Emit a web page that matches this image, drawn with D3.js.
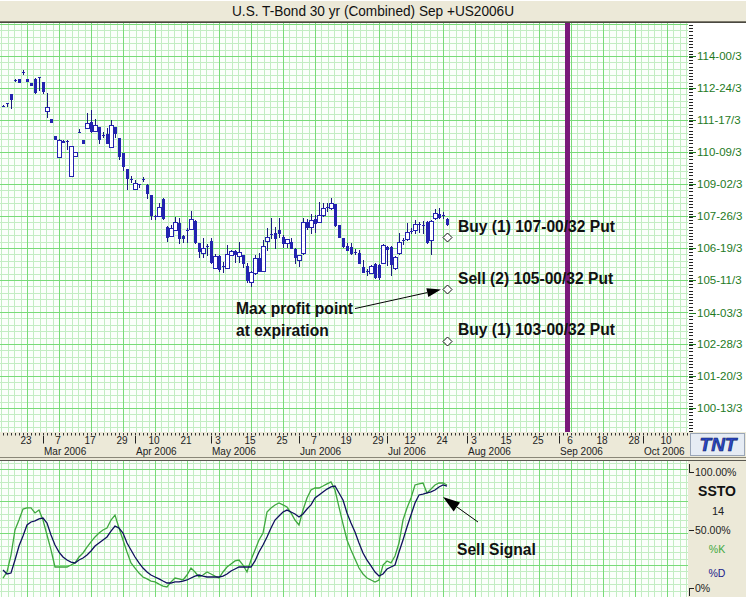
<!DOCTYPE html>
<html><head><meta charset="utf-8">
<script src="https://cdn.jsdelivr.net/npm/d3@7"></script>
<style>
body{margin:0;background:#ECE9D8;}
svg{display:block;font-family:"Liberation Sans",Arial,sans-serif;}
</style>
</head><body>
<svg id="c" width="746" height="597"></svg>
<script>
const title = "U.S. T-Bond 30 yr (Combined) Sep +US2006U";
const holidays = ["2006-02-20","2006-04-14","2006-05-29","2006-07-04"];
const firstDate = "2006-02-14", lastAxisDate = "2006-10-18";
const expirationDate = "2006-09-05";

const open = [
112.07,112.18,112.53,113.07,113.11,113.37,113.11,112.97,113.11,113.19,
112.98,111.89,111.57,110.91,110.11,110.73,110.73,109.38,110.15,111.05,
110.76,111.23,111.45,111.12,111.25,110.95,110.99,110.47,111.27,110.82,
110.24,109.64,109.24,108.85,109.04,109.26,109.02,108.63,107.84,107.83,
108.48,107.41,107.05,107.28,107.54,107.05,107.28,107.31,107.63,106.77,
106.40,106.67,106.86,105.82,106.29,105.90,105.82,106.31,106.47,106.29,
106.31,105.90,105.28,105.61,106.21,105.71,106.86,107.11,107.15,107.28,
107.02,106.77,106.83,106.55,106.12,106.38,107.60,107.38,107.69,107.60,
107.86,108.18,108.12,108.28,107.47,106.96,106.66,106.61,106.44,106.40,
105.86,105.71,105.63,105.97,105.93,105.99,106.64,106.64,105.80,106.38,
106.89,106.92,107.25,107.28,107.51,107.47,107.60,106.89,107.73,107.90,
107.86,107.69];
const high = [
112.09,112.20,112.53,113.11,113.11,113.46,113.11,112.97,113.14,113.20,
113.00,112.56,111.57,110.91,110.81,110.74,110.74,110.52,110.28,111.17,
110.76,111.79,111.91,111.56,111.25,111.08,111.21,111.53,111.27,110.82,
110.24,109.64,109.37,109.21,109.06,109.34,109.05,108.63,107.86,108.31,
108.53,107.43,107.47,107.79,107.76,107.07,107.35,108.01,107.67,106.78,
106.96,106.73,106.96,106.35,106.31,106.03,106.70,106.51,106.49,106.81,
106.33,105.99,105.70,106.31,106.38,106.89,107.35,107.73,107.41,107.76,
107.09,106.93,106.98,106.57,106.31,107.73,107.69,107.90,107.86,108.37,
108.31,108.31,108.50,108.30,107.49,106.99,106.77,106.77,106.53,106.51,
106.12,105.79,105.91,105.99,105.97,106.74,106.66,106.66,106.28,107.18,
106.96,107.54,107.34,107.67,107.60,107.63,107.63,107.67,108.08,108.12,
107.98,107.74];
const low = [
112.05,112.07,112.00,113.03,112.98,113.31,113.02,112.89,112.56,112.69,
112.56,111.66,111.44,110.78,110.11,110.68,110.42,109.38,110.15,111.05,
110.63,111.23,111.08,111.12,110.65,110.86,110.63,110.47,110.86,110.01,
109.60,108.85,109.15,108.85,108.96,109.19,108.50,107.69,107.69,107.83,
107.69,106.86,107.05,107.28,106.77,106.83,106.83,107.31,106.79,106.25,
106.25,106.31,106.01,105.81,105.71,105.67,105.81,106.31,106.06,106.03,
105.86,105.28,105.12,105.58,105.68,105.70,106.51,106.96,106.57,107.02,
106.64,106.64,106.57,106.01,105.89,106.37,107.31,107.18,107.21,107.59,
107.84,108.03,108.11,107.45,107.01,106.64,106.49,106.35,106.35,106.01,
105.66,105.54,105.62,105.43,105.39,105.99,105.93,105.54,105.79,106.37,
106.74,106.91,107.16,107.15,107.21,107.16,106.77,106.35,107.72,107.76,
107.74,107.49];
const close = [
112.07,112.18,112.34,113.07,112.98,113.37,113.02,112.89,112.60,113.19,
112.66,112.04,111.44,110.78,110.76,110.68,110.73,110.52,110.28,111.05,
110.63,111.42,111.10,111.34,110.78,110.95,110.63,111.34,111.04,110.15,
109.75,109.28,109.24,109.11,109.04,109.26,108.70,107.86,107.84,108.18,
107.73,107.02,107.37,107.60,106.98,106.96,107.28,107.70,106.83,106.47,
106.57,106.67,106.03,106.28,105.76,105.90,106.34,106.47,106.35,106.44,
105.99,105.35,105.67,106.19,105.70,106.66,107.02,107.11,106.96,107.15,
106.77,106.92,106.57,106.25,106.31,107.60,107.41,107.67,107.54,107.86,
108.12,108.18,108.31,107.47,107.02,106.66,106.51,106.38,106.44,106.01,
105.67,105.71,105.89,105.45,105.47,106.70,106.53,105.97,106.25,106.83,
106.89,107.21,107.25,107.51,107.51,107.47,106.83,107.64,107.95,107.77,
107.86,107.51];

const stochK = [
8.6,13.8,28.4,50.0,58.6,68.1,69.0,69.0,64.7,67.2,
58.6,45.7,32.8,18.1,18.1,18.1,18.1,19.8,21.6,26.7,
30.2,35.3,39.7,44.0,47.4,50.0,51.7,58.6,62.9,51.7,
41.4,31.0,21.6,17.2,12.9,9.5,7.8,6.0,5.2,3.4,
1.7,0.9,5.2,8.6,7.8,6.9,11.2,17.2,13.8,9.5,
11.2,13.8,12.1,10.3,8.6,13.8,18.1,20.7,23.3,24.1,
19.8,13.8,24.1,32.8,41.4,47.4,65.5,69.0,71.6,73.3,
71.6,69.8,64.7,58.6,54.3,67.2,77.6,84.5,86.2,86.2,
87.9,89.7,91.4,84.5,69.8,55.2,41.4,32.8,25.0,17.2,
12.1,8.6,6.9,5.2,6.9,19.8,23.3,21.6,27.6,38.8,
58.6,69.0,77.6,88.8,89.7,90.5,81.9,85.3,88.8,90.5,
90.5,88.8];
const stochD = [
15.5,12.1,12.9,24.1,36.2,44.8,54.3,56.9,57.8,59.5,
60.3,56.0,45.7,37.1,31.0,26.7,24.1,22.4,21.6,24.1,
25.9,28.4,31.9,36.2,38.8,41.4,44.0,49.1,53.4,51.7,
47.4,38.8,32.8,26.7,21.6,17.2,13.8,11.2,9.5,7.8,
6.0,4.3,4.3,5.2,5.2,6.0,6.9,8.6,10.3,11.2,
10.3,9.5,9.5,9.5,9.5,10.3,12.1,14.7,16.4,18.1,
18.1,18.1,18.1,23.3,31.0,37.1,44.0,51.7,58.6,62.1,
65.5,67.2,65.5,63.8,61.2,63.8,68.1,71.6,77.6,80.2,
82.8,85.3,87.1,87.9,81.9,75.9,64.7,56.0,48.3,38.8,
30.2,24.1,19.0,13.8,10.3,12.1,16.4,18.1,19.8,31.0,
41.4,52.6,62.9,73.3,80.2,81.0,81.9,82.8,84.5,87.1,
88.8,87.9];

const priceTicks = [114.0,112.75,111.53125,110.28125,109.0625,107.8125,106.59375,105.34375,104.09375,102.875,101.625,100.40625];
const priceTickLabels = ["114-00/3","112-24/3","111-17/3","110-09/3","109-02/3","107-26/3","106-19/3","105-11/3","104-03/3","102-28/3","101-20/3","100-13/3"];
const strikes = [107, 105, 103];
const strikeLabels = ["Buy (1) 107-00/32 Put","Sell (2) 105-00/32 Put","Buy (1) 103-00/32 Put"];
const stochTicks = [100, 50, 0];
const stochTickLabels = ["100.00%","50.00%","0%"];
const stochName = "SSTO", stochPeriod = "14";
const labelEvery = 8, firstLabelIndex = 6;

// ---------- layout ----------
const W = 746, H = 597;
const plotR = 688, mainTop = 23, mainBot = 432;
const axTop = 432, axBot = 457;
const subTop = 461, subBot = 597;
const barStep = 4, firstBarX = 3;

const fmt = d3.utcFormat("%Y-%m-%d");
const parse = d3.utcParse("%Y-%m-%d");
const dates = d3.utcDay.range(parse(firstDate), parse(lastAxisDate))
  .filter(d => d.getUTCDay() % 6 !== 0 && !holidays.includes(fmt(d)));
const keys = dates.map(fmt);
const x = d3.scalePoint().domain(keys).range([firstBarX, firstBarX + barStep*(keys.length-1)]);
const y = d3.scaleLinear().domain([100.40625, 114]).range([408, 56]);
const ys = d3.scaleLinear().domain([0, 100]).range([588, 472]);

const bars = open.map((o,i)=>({date:keys[i],o,h:high[i],l:low[i],c:close[i]}));

const svg = d3.select("#c");
const defs = svg.append("defs");
defs.append("clipPath").attr("id","mainClip").append("rect").attr("x",0).attr("y",mainTop).attr("width",plotR).attr("height",mainBot-mainTop);
defs.append("clipPath").attr("id","subClip").append("rect").attr("x",0).attr("y",subTop).attr("width",plotR).attr("height",subBot-subTop);

svg.append("rect").attr("width",W).attr("height",H).attr("fill","#ECE9D8");

// ---------- grid helper ----------
const minorC = "#c3edc3", majorC = "#78db78";
function grid(g, top, bot, hStart) {
  g.append("rect").attr("x",0).attr("y",top).attr("width",plotR).attr("height",bot-top).attr("fill","#fbfffb");
  const vx0 = x(keys[firstLabelIndex]);
  const vlines = [];
  for (let j = -10; ; j++) { const gx = vx0 + j*6.4; if (gx > plotR) break; if (gx >= 0) vlines.push({v:gx, major: ((j%5)+5)%5===0}); }
  const hlines = [];
  for (let j = -80; j < 200; j++) { const gy = hStart + j*6.4; if (gy < top) continue; if (gy > bot) break; hlines.push({v:gy, major: ((j%5)+5)%5===0}); }
  [false,true].forEach(maj => {
    g.selectAll(null).data(vlines.filter(d=>d.major===maj)).join("line")
      .attr("x1",d=>Math.round(d.v)+0.5).attr("x2",d=>Math.round(d.v)+0.5).attr("y1",top).attr("y2",bot)
      .attr("stroke",maj?majorC:minorC).attr("stroke-width",1);
    g.selectAll(null).data(hlines.filter(d=>d.major===maj)).join("line")
      .attr("y1",d=>Math.round(d.v)+0.5).attr("y2",d=>Math.round(d.v)+0.5).attr("x1",0).attr("x2",plotR)
      .attr("stroke",maj?majorC:minorC).attr("stroke-width",1);
  });
}

// ---------- main panel ----------
const main = svg.append("g").attr("clip-path","url(#mainClip)");
grid(main, mainTop, mainBot, y(priceTicks[0]));

// expiration line
main.append("line").attr("x1",x(expirationDate)+0.5).attr("x2",x(expirationDate)+0.5)
  .attr("y1",mainTop).attr("y2",mainBot+2).attr("stroke","#7a1a7a").attr("stroke-width",5);

// candles
const candleFill = "#2323b0", candleLine = "#1a1a80";
const cg = main.append("g");
cg.selectAll("line.wick").data(bars).join("line").attr("class","wick")
  .attr("x1",d=>x(d.date)+0.5).attr("x2",d=>x(d.date)+0.5)
  .attr("y1",d=>Math.round(y(d.h))).attr("y2",d=>Math.round(y(d.l))+1).attr("stroke",candleLine).attr("stroke-width",1);
const up = cg.selectAll("rect.up").data(bars.filter(d=>d.c>d.o)).join("rect").attr("class","up")
  .attr("x",d=>x(d.date)-1.5).attr("width",4)
  .attr("y",d=>Math.round(y(d.c))+0.5)
  .attr("height",d=>Math.max(1, Math.round(y(d.o))-Math.round(y(d.c))))
  .attr("fill","#ffffff").attr("stroke",candleFill).attr("stroke-width",1);
cg.selectAll("rect.dn").data(bars.filter(d=>d.c<=d.o)).join("rect").attr("class","dn")
  .attr("x",d=>x(d.date)-1).attr("width",3)
  .attr("y",d=>Math.round(y(d.o)))
  .attr("height",d=>Math.max(1, Math.round(y(d.c))-Math.round(y(d.o))+1))
  .attr("fill",candleFill);

// strike diamonds & labels
const lastKey = keys[bars.length-1];
const ag = svg.append("g");
ag.selectAll("path.dia").data(strikes).join("path").attr("class","dia")
  .attr("d",s=>{const cx=x(lastKey)+0.5, cy=Math.round(y(s))+0.5, r=4.5; return `M${cx},${cy-r}L${cx+r},${cy}L${cx},${cy+r}L${cx-r},${cy}Z`;})
  .attr("fill","#ffffff").attr("stroke","#111").attr("stroke-width",1);
ag.selectAll("text.strike").data(strikes).join("text").attr("class","strike")
  .attr("x",x(lastKey)+11).attr("y",s=>y(s)-5.5)
  .attr("font-size",15.6).attr("font-weight","bold").attr("fill","#111").text((s,i)=>strikeLabels[i]);

// Max profit annotation
function arrow(g, x1,y1,x2,y2, head, hw){
  const a = Math.atan2(y2-y1,x2-x1);
  const bx = x2 - head*Math.cos(a), by = y2 - head*Math.sin(a);
  g.append("line").attr("x1",x1).attr("y1",y1).attr("x2",bx).attr("y2",by).attr("stroke","#000").attr("stroke-width",1);
  const px = -Math.sin(a)*hw, py = Math.cos(a)*hw;
  g.append("path").attr("d",`M${x2},${y2}L${bx+px},${by+py}L${bx-px},${by-py}Z`).attr("fill","#000");
}
const tipX = x(lastKey)-6, tipY = y(strikes[1])+0.5;
arrow(ag, tipX-86, tipY+19, tipX, tipY, 14, 4.5);
ag.append("text").attr("x",236).attr("y",313.5).attr("font-size",15.6).attr("font-weight","bold").attr("fill","#111").text("Max profit point");
ag.append("text").attr("x",236).attr("y",335.5).attr("font-size",15.6).attr("font-weight","bold").attr("fill","#111").text("at expiration");

// ---------- right price axis ----------
svg.append("rect").attr("x",plotR).attr("y",mainTop).attr("width",W-plotR).attr("height",mainBot-mainTop).attr("fill","#ffffff");
const ax = svg.append("g");
const minorTicks = d3.range(mainTop+2, mainBot, 3.2);
ax.selectAll("line.mt").data(minorTicks).join("line").attr("class","mt")
  .attr("x1",plotR+1).attr("x2",plotR+5).attr("y1",d=>Math.round(d)+0.5).attr("y2",d=>Math.round(d)+0.5)
  .attr("stroke","#222").attr("stroke-width",1);
ax.selectAll("line.Mt").data(priceTicks).join("line").attr("class","Mt")
  .attr("x1",plotR+1).attr("x2",plotR+8).attr("y1",d=>Math.round(y(d))+0.5).attr("y2",d=>Math.round(y(d))+0.5)
  .attr("stroke","#1e7a1e").attr("stroke-width",1);
ax.selectAll("text").data(priceTicks).join("text")
  .attr("x",plotR+9).attr("y",d=>y(d)+4).attr("font-size",11.5).attr("fill","#1e7a1e")
  .text((d,i)=>priceTickLabels[i]);

// ---------- date axis band ----------
const xb = svg.append("g");
xb.append("rect").attr("x",0).attr("y",axTop).attr("width",plotR).attr("height",axBot-axTop).attr("fill","#ECE9D8");
xb.selectAll("line.dot").data(keys).join("line").attr("class","dot")
  .attr("x1",d=>x(d)+0.5).attr("x2",d=>x(d)+0.5).attr("y1",433).attr("y2",435.5).attr("stroke","#333").attr("stroke-width",1);
const dayKeys = keys.filter((k,i)=> i>=firstLabelIndex && (i-firstLabelIndex)%labelEvery===0);
xb.selectAll("text.day").data(dayKeys).join("text").attr("class","day")
  .attr("x",d=>x(d)-1).attr("y",444.2).attr("text-anchor","middle").attr("font-size",10).attr("fill","#222")
  .text(d=>+d.slice(8,10));
const monthKeys = keys.filter((k,i)=> i>0 && k.slice(5,7)!==keys[i-1].slice(5,7));
xb.selectAll("line.mon").data(monthKeys).join("line").attr("class","mon")
  .attr("x1",d=>x(d)+0.5).attr("x2",d=>x(d)+0.5).attr("y1",436).attr("y2",443.5).attr("stroke","#222");
const monFmt = d3.utcFormat("%b %Y");
xb.selectAll("text.mon").data(monthKeys).join("text").attr("class","mon")
  .attr("x",d=>x(d)+1).attr("y",455.4).attr("font-size",10).attr("fill","#222")
  .text(d=>monFmt(parse(d)));
xb.append("line").attr("x1",0).attr("x2",W).attr("y1",457.5).attr("y2",457.5).attr("stroke","#8a8778");
xb.append("line").attr("x1",0).attr("x2",W).attr("y1",460.5).attr("y2",460.5).attr("stroke","#5a5850");

// TNT logo
const lg = svg.append("g");
lg.append("rect").attr("x",690.5).attr("y",433.5).attr("width",54).attr("height",22).attr("fill","#e6ecf4").attr("stroke","#9aa6b8");
lg.append("text").attr("x",718).attr("y",451).attr("text-anchor","middle").attr("font-size",19).attr("font-weight","bold")
  .attr("font-style","italic").attr("fill","#2a48c8").attr("stroke","#0d1a60").attr("stroke-width",0.6).text("TNT");

// ---------- stochastic panel ----------
const sub = svg.append("g").attr("clip-path","url(#subClip)");
grid(sub, subTop, subBot, 469);
const line = d3.line().x((d,i)=>x(keys[i])).y(d=>ys(d));
sub.append("path").datum(stochK).attr("d",line).attr("fill","none").attr("stroke","#3fa83f").attr("stroke-width",1.3);
sub.append("path").datum(stochD).attr("d",line).attr("fill","none").attr("stroke","#10105e").attr("stroke-width",1.3);

// sell signal
const sTipX = x(lastKey)-4, sTipY = ys(stochD[stochD.length-1])+11;
arrow(svg, sTipX+35, sTipY+25, sTipX, sTipY, 17, 5.5);
svg.append("text").attr("x",457).attr("y",554.5).attr("font-size",15.6).attr("font-weight","bold").attr("fill","#111").text("Sell Signal");

// right info box
const ib = svg.append("g");
ib.append("rect").attr("x",plotR).attr("y",subTop).attr("width",W-plotR).attr("height",subBot-subTop).attr("fill","#ECE9D8");
ib.selectAll("text.st").data(stochTicks).join("text").attr("class","st")
  .attr("x",plotR+7).attr("y",d=>ys(d)+4).attr("font-size",10.5).attr("fill","#222")
  .text((d,i)=>stochTickLabels[i]);
ib.selectAll("line.st").data(stochTicks).join("line").attr("class","st")
  .attr("x1",plotR+1).attr("x2",plotR+6).attr("y1",d=>Math.round(ys(d))+0.5).attr("y2",d=>Math.round(ys(d))+0.5).attr("stroke","#222");
ib.append("line").attr("x1",plotR+1.5).attr("x2",plotR+1.5).attr("y1",ys(100)-8).attr("y2",ys(100)).attr("stroke","#222");
ib.append("line").attr("x1",plotR+1.5).attr("x2",plotR+1.5).attr("y1",ys(0)).attr("y2",ys(0)+8).attr("stroke","#222");
ib.append("text").attr("x",717).attr("y",496).attr("text-anchor","middle").attr("font-size",14).attr("font-weight","bold").attr("fill","#111").text(stochName);
ib.append("text").attr("x",718).attr("y",515).attr("text-anchor","middle").attr("font-size",11).attr("fill","#222").text(stochPeriod);
ib.append("text").attr("x",717).attr("y",553).attr("text-anchor","middle").attr("font-size",10.5).attr("fill","#3fa83f").text("%K");
ib.append("text").attr("x",717).attr("y",576.5).attr("text-anchor","middle").attr("font-size",10.5).attr("fill","#1a1a8a").text("%D");

// ---------- title bar ----------
const tb = svg.append("g");
tb.append("rect").attr("x",0).attr("y",0).attr("width",W).attr("height",22).attr("fill","#ECE9D8");
tb.append("line").attr("x1",0).attr("x2",W).attr("y1",0.5).attr("y2",0.5).attr("stroke","#ffffff");
tb.append("line").attr("x1",0).attr("x2",W).attr("y1",21.5).attr("y2",21.5).attr("stroke","#7d7a6c");
tb.append("line").attr("x1",0).attr("x2",W).attr("y1",22.5).attr("y2",22.5).attr("stroke","#4a4840");
tb.append("text").attr("x",373).attr("y",16).attr("text-anchor","middle")
  .attr("font-family","'Liberation Sans Narrow','Arial Narrow','Liberation Sans',Arial,sans-serif")
  .attr("font-size",14.5).attr("fill","#111").attr("textLength",282).attr("lengthAdjust","spacingAndGlyphs").text(title);
</script>
</body></html>
